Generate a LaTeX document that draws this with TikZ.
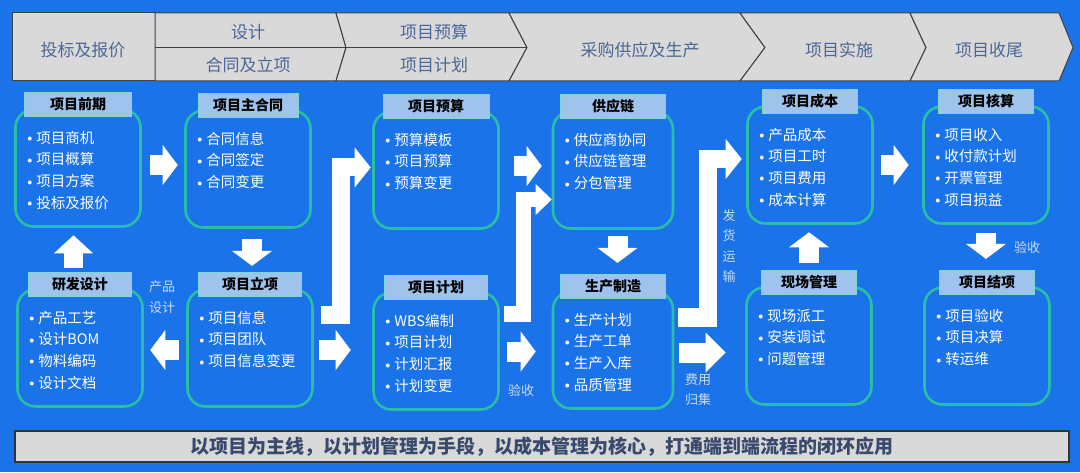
\documentclass[tikz,border=0pt]{standalone}
\usepackage{fontspec}
\setmainfont{Noto Sans CJK SC}
\usepackage{tikz}
\usetikzlibrary{arrows.meta,positioning,calc}

\definecolor{bgblue}{RGB}{26,115,232}
\definecolor{cardline}{RGB}{40,190,168}
\definecolor{tabfill}{RGB}{158,195,236}
\definecolor{headfill}{RGB}{217,217,217}
\definecolor{headtext}{RGB}{75,104,150}
\definecolor{notetext}{RGB}{205,218,240}
\definecolor{bannertext}{RGB}{58,74,108}

\newcommand{\bul}{\makebox[9pt][l]{\raisebox{1.5pt}{\fontsize{10}{10}\selectfont$\bullet$}}}

\begin{document}
\begin{tikzpicture}[
    x=1pt, y=1pt,
    card/.style={draw=cardline, line width=2.6pt, fill=bgblue, rounded corners=18pt,
                 minimum width=125pt, minimum height=117pt},
    tab/.style={draw=cardline!60!white, line width=0.8pt, fill=tabfill, minimum width=103pt,
                minimum height=24pt, inner sep=0pt, text=black,
                font=\fontsize{14}{16}\selectfont\bfseries},
    items/.style={align=left, inner sep=0pt, text=white, font=\fontsize{14.5}{21.7}\selectfont},
    fat/.style={draw=white, line width=20pt, line join=miter,
                -{Triangle[width=40pt,length=15pt,line width=0pt]}},
    elb/.style={fat, line width=18pt, -{Triangle[width=40pt,length=16pt,line width=0pt]}},
    note/.style={text=notetext, font=\fontsize{13}{20.5}\selectfont, align=center, inner sep=0pt},
    phase/.style={text=headtext, font=\fontsize{17}{17}\selectfont},
    seg/.style={fill=headfill, draw=black!75, line width=1pt}
]
\useasboundingbox (0,0) rectangle (1080,472);
\fill[bgblue] (0,0) rectangle (1080,472);

% phase band
\draw[seg] (12.5,459) rectangle (155,391);
\draw[seg] (155,459) -- (336,459) -- (346,424.5) -- (336,391) -- (155,391) -- cycle;
\foreach \a/\b/\c/\d in {336/346/509/527, 509/527/740/765, 740/765/910/926, 910/926/1059/1073}
  \draw[seg] (\a,459) -- (\c,459) -- (\d,424.5) -- (\c,391) -- (\a,391) -- (\b,424.5) -- cycle;
\draw[black!75, line width=1pt] (155,424.5) -- (527,424.5);

\node[phase] (p1) at (83,422) {投标及报价};
\node[phase] (p2a) at (248,440) {设计};
\node[phase] (p2b) at (248,407) {合同及立项};
\node[phase] (p3a) at (434,440) {项目预算};
\node[phase] (p3b) at (434,407) {项目计划};
\node[phase] (p4) at (640,422) {采购供应及生产};
\node[phase] (p5) at (839,422) {项目实施};
\node[phase] (p6) at (989,422) {项目收尾};

% top row
\node[card] (qq) at (78,304) {};
\node[card] (zht) at (248,303) {};
\node[card] (ys) at (436,302) {};
\node[card, minimum width=120pt] (gyl) at (613,302) {};
\node[card] (cb) at (810,307) {};
\node[card] (hs) at (986,307) {};
% bottom row
\node[card] (yf) at (80,124) {};
\node[card] (lx) at (250,124) {};
\node[card] (jh) at (436,121) {};
\node[card, minimum width=120pt] (sc) at (613,122) {};
\node[card] (xc) at (809,126) {};
\node[card] (jx) at (987,126) {};

% titles
\node[tab, minimum width=107pt, above=-8.5pt of qq.north] (qqt) {项目前期};
\node[tab, minimum width=100pt, above=-8.5pt of zht.north] (zhtt) {项目主合同};
\node[tab, minimum width=106pt, above=-8.5pt of ys.north] (yst) {项目预算};
\node[tab, minimum width=105pt, above=-8.5pt of gyl.north] (gylt) {供应链};
\node[tab, minimum width=95pt, above=-8.5pt of cb.north] (cbt) {项目成本};
\node[tab, minimum width=95pt, above=-8.5pt of hs.north] (hst) {项目核算};
\node[tab, above=-8.5pt of yf.north] (yft) {研发设计};
\node[tab, above=-8.5pt of lx.north] (lxt) {项目立项};
\node[tab, above=-8.5pt of jh.north] (jht) {项目计划};
\node[tab, minimum width=105pt, above=-8.5pt of sc.north] (sct) {生产制造};
\node[tab, minimum width=95pt, above=-8.5pt of xc.north] (xct) {现场管理};
\node[tab, minimum width=95pt, above=-8.5pt of jx.north] (jxt) {项目结项};

% lists
\node[items, below right=22.5pt and 13pt of qq.north west] (qql)
  {\bul 项目商机\\ \bul 项目概算\\ \bul 项目方案\\ \bul 投标及报价};
\node[items, below right=22.5pt and 13pt of zht.north west] (zhtl)
  {\bul 合同信息\\ \bul 合同签定\\ \bul 合同变更};
\node[items, below right=22.5pt and 13pt of ys.north west] (ysl)
  {\bul 预算模板\\ \bul 项目预算\\ \bul 预算变更};
\node[items, below right=22.5pt and 13pt of gyl.north west] (gyll)
  {\bul 供应商协同\\ \bul 供应链管理\\ \bul 分包管理};
\node[items, below right=22.5pt and 13pt of cb.north west] (cbl)
  {\bul 产品成本\\ \bul 项目工时\\ \bul 项目费用\\ \bul 成本计算};
\node[items, below right=22.5pt and 13pt of hs.north west] (hsl)
  {\bul 项目收入\\ \bul 收付款计划\\ \bul 开票管理\\ \bul 项目损益};
\node[items, below right=22.5pt and 13pt of yf.north west] (yfl)
  {\bul 产品工艺\\ \bul 设计BOM\\ \bul 物料编码\\ \bul 设计文档};
\node[items, below right=22.5pt and 13pt of lx.north west] (lxl)
  {\bul 项目信息\\ \bul 项目团队\\ \bul 项目信息变更};
\node[items, below right=22.5pt and 13pt of jh.north west] (jhl)
  {\bul WBS编制\\ \bul 项目计划\\ \bul 计划汇报\\ \bul 计划变更};
\node[items, below right=22.5pt and 13pt of sc.north west] (scl)
  {\bul 生产计划\\ \bul 生产工单\\ \bul 生产入库\\ \bul 品质管理};
\node[items, below right=22.5pt and 13pt of xc.north west] (xcl)
  {\bul 现场派工\\ \bul 安装调试\\ \bul 问题管理};
\node[items, below right=22.5pt and 13pt of jx.north west] (jxl)
  {\bul 项目验收\\ \bul 项目决算\\ \bul 转运维};

% flow arrows
\draw[fat, shorten <=8.5pt, shorten >=6.5pt] ([yshift=3pt]qq.east) -- ([yshift=3pt]qq.east -| zht.west);
\draw[fat, shorten <=14.5pt, shorten >=10pt] ([yshift=4pt]ys.east) -- ([yshift=4pt]ys.east -| gyl.west);
\draw[fat, shorten <=7.5pt, shorten >=13.5pt] (cb.east) -- (cb.east -| hs.west);
\draw[fat, shorten <=5.5pt, shorten >=21.5pt] ([yshift=-2pt]lx.east) -- ([yshift=-2pt]lx.east -| jh.west);
\draw[fat, shorten <=7.5pt, shorten >=16pt] ([yshift=-0.5pt]jh.east) -- ([yshift=-0.5pt]jh.east -| sc.west);
\draw[fat, shorten <=5pt, shorten >=19.5pt, -{Triangle[width=40pt,length=20pt,line width=0pt]}]
  ([yshift=-2.5pt]sc.east) -- ([yshift=-2.5pt]sc.east -| xc.west);
\draw[fat, shorten <=7.5pt, shorten >=6.5pt] ([yshift=-2pt]lx.west) -- ([yshift=-2pt]lx.west -| yf.east);

\draw[fat, shorten <=10.5pt, shorten >=6pt] ([xshift=4pt]zht.south) -- ([xshift=4pt]zht.south |- lxt.north);
\draw[fat, line width=19pt, shorten <=4pt, shorten >=7.5pt, -{Triangle[width=39pt,length=18pt,line width=0pt]}]
  ([xshift=-6.5pt]yft.north) -- ([xshift=-6.5pt]yft.north |- qq.south);
\draw[fat, shorten <=6.5pt, shorten >=11pt] ([xshift=4.5pt]gyl.south) -- ([xshift=4.5pt]gyl.south |- sct.north);
\draw[fat, shorten <=7pt, shorten >=7.5pt] (xct.north) -- (xct.north |- cb.south);
\draw[fat, shorten <=8.5pt, shorten >=11pt] (hs.south) -- (hs.south |- jxt.north);

% bent arrows
\draw[elb, shorten >=1.5pt] ([shift={(7.5pt,33pt)}]lx.east) -- ++(20pt,0pt) |- ([yshift=2.5pt]ys.west);
\draw[elb, line width=15pt, -{Triangle[width=31pt,length=16pt,line width=0pt]}]
  ([shift={(4.5pt,37pt)}]jh.east) -- ++(19.5pt,0pt) |- ([yshift=-29.5pt]gyl.west);
\draw[elb, shorten >=4.5pt] ([shift={(4pt,32.5pt)}]sc.east) -- ++(30pt,0pt) |- ([yshift=6pt]cb.west);

% notes
\node[note] (ncp) at (162,175) {产品\\设计};
\node[note] (nys1) at (521,81) {验收};
\node[note] (nfh) at (729,226) {发\\货\\运\\输};
\node[note] (nfy) at (698,82.5) {费用\\归集};
\node[note] (nys2) at (1027,224) {验收};

% motto
\node[draw=black!80, line width=1.2pt, fill=headfill, minimum width=1054pt, minimum height=31pt,
      text=bannertext, font=\fontsize{19}{19}\selectfont\bfseries] (motto) at (542,25.5)
  {以项目为主线，以计划管理为手段，以成本管理为核心，打通端到端流程的闭环应用};
\end{tikzpicture}
\end{document}
